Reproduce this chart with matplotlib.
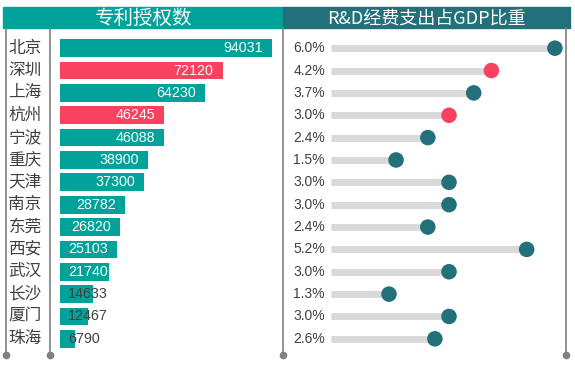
import matplotlib.pyplot as plt
import matplotlib.transforms as mtransforms
from matplotlib.patches import Rectangle

plt.rcParams['font.family'] = ['Liberation Sans', 'Noto Sans CJK SC', 'DejaVu Sans']

cities = ["北京", "深圳", "上海", "杭州", "宁波", "重庆", "天津",
          "南京", "东莞", "西安", "武汉", "长沙", "厦门", "珠海"]
patents = [94031, 72120, 64230, 46245, 46088, 38900, 37300,
           28782, 26820, 25103, 21740, 14633, 12467, 6790]
rd_ratio = [6.0, 4.2, 3.7, 3.0, 2.4, 1.5, 3.0, 3.0, 2.4, 5.2, 3.0, 1.3, 3.0, 2.6]
highlight = ["深圳", "杭州"]

teal = "#00A29A"
dark_teal = "#21707A"
red = "#F9425F"
grey_line = "#808080"
txt = "#404040"

W, H = 575, 365
fig = plt.figure(figsize=(W / 100, H / 100), dpi=100)


def px_axes(x0, y0, x1, y1):
    return fig.add_axes([x0 / W, 1 - y1 / H, (x1 - x0) / W, (y1 - y0) / H])


# overlay in pixel coordinates
over = px_axes(0, 0, W, H)
over.set_xlim(0, W)
over.set_ylim(H, 0)
over.axis("off")

rows = list(range(len(cities)))

# patent bars
ax1 = px_axes(60, 37, 283, 350)
xmax1 = patents[0] * 223 / 212
ax1.set_xlim(0, xmax1)
ax1.set_ylim(len(cities) - 0.5, -0.5)
ax1.axis("off")
bar_colors = [red if c in highlight else teal for c in cities]
ax1.barh(rows, patents, height=0.79, color=bar_colors)
px_per = 223 / xmax1
for i, v in zip(rows, patents):
    col = "white" if v > 20000 else txt
    if v * px_per - 9 - 7.6 * len(str(v)) < 8:
        ax1.annotate(str(v), (0, i), xytext=(8, 0), textcoords="offset pixels",
                     ha="left", va="center", color=col, fontsize=10.3)
    else:
        ax1.annotate(str(v), (v, i), xytext=(-9, 0), textcoords="offset pixels",
                     ha="right", va="center", color=col, fontsize=10.3)

# R&D lollipops
ax2 = px_axes(331, 37, 566, 350)
xmin = 1.3 - (389 - 331) / 35.3
ax2.set_xlim(xmin, 1.3 + (566 - 389) / 35.3)
ax2.set_ylim(len(cities) - 0.5, -0.5)
ax2.axis("off")
ax2.hlines(rows, xmin, rd_ratio, color="#D9D9D9", linewidth=5, zorder=1)
dot_colors = [red if c in highlight else dark_teal for c in cities]
ax2.scatter(rd_ratio, rows, s=125, color=dot_colors, zorder=2, linewidths=0)

# row labels
tr = mtransforms.blended_transform_factory(over.transData, ax1.transData)
for i, c in zip(rows, cities):
    fig.text(25, i, c, transform=tr, ha="center", va="center", color=txt,
             fontsize=12, family=["Noto Sans CJK SC", "DejaVu Sans"])
tr2 = mtransforms.blended_transform_factory(over.transData, ax2.transData)
for i, v in zip(rows, rd_ratio):
    fig.text(325, i, f"{v:.1f}%", transform=tr2, ha="right", va="center",
             color=txt, fontsize=10)

# headers
over.add_patch(Rectangle((3, 7), 280, 20.5, color=teal, zorder=0))
over.add_patch(Rectangle((283, 7), 287, 20.5, color=dark_teal, zorder=0))
over.text(144, 18.5, "专利授权数", ha="center", va="center", color="white",
          fontsize=14, family=["Noto Sans CJK SC", "DejaVu Sans"])
over.text(426, 18.5, "R&D经费支出占GDP比重", ha="center", va="center", color="white",
          fontsize=13, family=["Noto Sans CJK SC", "DejaVu Sans"])

# vertical frame lines
for x in [6, 50, 283, 566]:
    over.plot([x, x], [27.5, 355], color=grey_line, linewidth=1.2)
    over.plot(x, 355, "o", color=grey_line, markersize=4.5)

fig.savefig("out.png", dpi=100)
